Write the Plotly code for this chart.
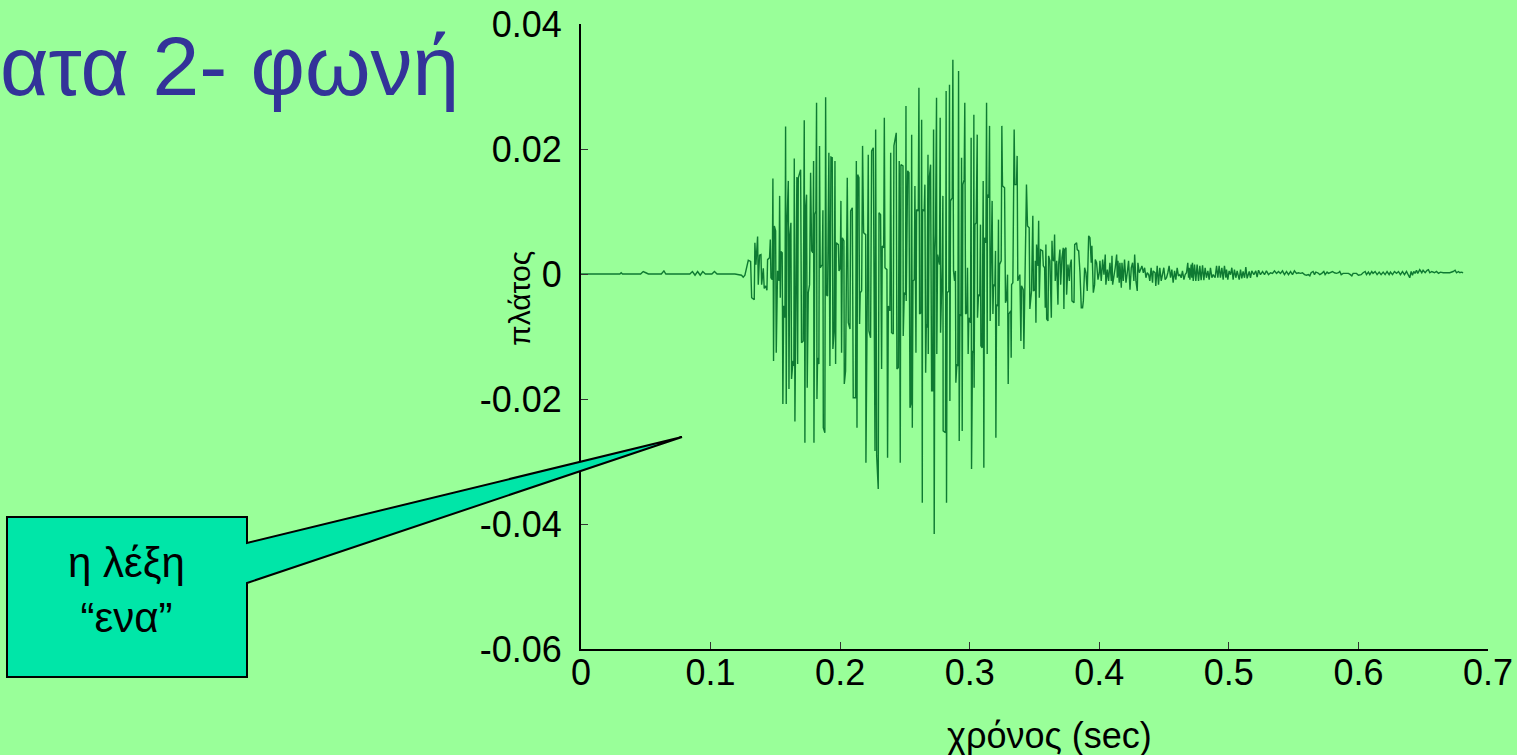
import numpy as np
import plotly.graph_objects as go

# ---------------- data (time in ms, amplitude in units of 1e-3) ----------------
head_t = [0.0, 30.0, 31.0, 32.0, 46.0, 48.0, 50.0, 52.0, 62.0, 64.0, 65.5,
          84.0, 86.0, 88.0, 90.0, 92.0, 94.0, 96.0, 101.0, 103.0, 105.0, 118.8]
head_a = [0.0, 0.0, 0.2, 0.0, 0.0, 0.4, 0.2, 0.0, 0.0, 0.5, 0.0,
          0.0, 0.4, -0.2, 0.4, -0.2, 0.4, 0.0, 0.0, 0.4, 0.0, 0.0]

onset_t = [123.9,125.2,126.5,127.8,129.1,130.9,131.7,133.7,134.2,135.0,
           136.3,136.8,137.8,138.9,139.4,140.7,141.4,142.5,143.5,144.0,
           145.5,146.1,146.6,147.6,148.1,148.6,149.2,150.2,150.7,151.7,
           152.8,153.3,153.8,154.3,155.3,155.8,156.4,157.4,157.9,158.4,
           158.9,160.0,160.5,161.2,162.0,162.5,163.6,164.3,164.6,165.1,
           165.6,166.6,167.2,167.7,169.5,170.2,171.5,172.3,172.8,173.3,
           174.1,174.6,175.4,176.4,177.2,178.0,179.0,179.5,179.8,180.5,
           181.3,181.8,182.1,182.6,183.6,184.1,184.6,186.2,186.7,187.0,
           188.2,188.8,189.3,190.3,191.3,192.1,192.9,193.9,194.4,195.4]
onset_a = [-0.2,-0.5,-0.2,1.0,2.2,2.0,-3.8,-4.1,5.0,1.5,
           6.0,-1.7,3.0,3.1,-1.7,0.9,-2.3,-1.9,-2.6,2.3,
           2.6,5.5,-0.6,-0.9,15.3,-13.9,7.7,6.9,-12.6,0.5,
           -1.1,12.5,-3.8,3.6,3.4,-20.8,-5.1,-7.0,23.6,-20.8,
           7.7,14.9,-18.4,6.3,8.2,-16.8,-13.9,-14.7,18.5,-23.6,
           -3.9,15.5,-14.4,15.4,16.7,-11.0,-10.7,24.6,-27.0,10.3,
           12.7,-18.2,-3.0,-1.7,16.2,3.7,3.4,18.1,-27.0,9.5,
           10.1,27.4,-20.0,-13.4,-14.4,20.5,1.0,1.5,10.2,-24.6,
           -25.4,28.3,-3.3,-3.5,19.4,-14.7,18.7,18.6,-12.0,-9.1]

mid_t = [196.0,196.5,197.0,198.6,199.1,200.1,200.6,201.1,201.7,202.9,
         203.2,204.2,205.5,206.3,207.6,208.1,209.4,210.1,211.9,212.5,
         213.0,213.5,214.5,215.0,215.5,216.6,217.3,218.1,219.7,219.9,
         221.0,221.7,222.2,223.5,224.3,225.6,226.9,227.4,228.2,229.4,
         230.0,231.2,232.0,232.5,233.6,234.1,234.6,236.1,236.6,237.2,
         238.4,239.0,239.7,241.0,241.5,243.3,243.8,244.9,245.6,246.4,
         246.9,248.5,248.7,249.5,250.5,250.8,251.0,252.1,253.1,253.9,
         254.6,255.2,255.7,256.2,257.2,257.7,258.5,259.0,260.3,260.8,
         261.3,262.4,262.9,263.4,263.6,264.9,265.4,266.0,266.5,267.0,
         267.8,268.0,268.8,269.8,270.6,271.4,272.1,272.6,273.2]
mid_a = [18.1,-14.4,5.0,4.7,0.5,1.0,11.7,-12.6,5.8,5.3,
         -17.6,-15.5,15.4,-7.8,-8.8,10.1,10.6,-19.8,-19.8,18.1,
         -24.6,15.9,15.4,-8.0,-3.0,-2.7,20.5,6.6,6.3,-30.2,
         -2.5,19.1,-9.1,-10.2,19.7,20.2,-28.3,23.1,-29.1,-34.4,
         9.8,9.5,-15.2,4.5,4.2,25.0,1.0,0.7,-29.4,-5.1,
         -5.9,19.4,-9.4,-9.6,20.5,22.6,-15.2,-15.0,18.1,-30.2,
         17.5,17.3,-9.9,-3.0,-3.3,26.9,-4.3,16.5,16.2,-21.4,
         -20.8,22.3,-24.6,-1.1,-0.9,14.1,-12.6,10.3,10.1,29.8,
         -6.4,-6.2,24.7,-36.6,10.3,10.1,14.3,-15.8,-8.0,-8.6,
         19.1,-12.8,15.4,17.5,-18.7,-18.7,23.1,-41.6,3.7]

peak_t = [273.6,274.4,274.6,275.2,276.7,277.2,277.5,278.8,279.3,279.5,
          281.3,281.8,282.1,282.6,283.9,284.4,284.7,285.2,286.5,287.0,
          287.5,288.3,289.0,289.3,290.1,290.8,291.4,291.9,292.4,293.2,
          293.7,294.2,294.7,295.7,296.2,296.8,297.8,298.3,298.8,299.3,
          300.6,301.1,301.4,302.2,302.9,303.2,303.4,304.0,305.0,305.8,
          306.0,306.8,307.8,308.3,308.6,309.6,310.4,310.9,311.4,312.5,
          313.0,313.5,313.7,314.8,315.3,315.8,316.6,317.3,317.9,318.4,
          319.4,319.9,320.2,320.7,321.7,322.2,322.5,323.0,324.3,324.8,
          325.3,326.9,327.6,328.4,329.2,329.7,330.2,331.7,332.0,332.3,
          333.3,334.3,334.8,336.1,336.6,337.1,338.7,339.5,340.0,341.3,
          341.8,342.5,343.8,344.6,345.9,346.4,347.7,348.7,349.2,350.3]
peak_a = [6.3,28.2,-12.8,3.1,1.5,25.0,-9.4,1.5,12.5,-25.1,
          -25.4,29.3,-36.6,-3.0,-2.7,30.3,-20.3,11.7,12.2,34.3,
          0.5,-1.1,0.5,-17.4,-14.4,-14.7,32.5,-26.7,-6.4,-6.7,
          18.6,-25.1,14.3,15.1,27.4,-6.4,-6.2,1.0,-12.8,-7.0,
          -7.8,21.8,-31.2,-12.3,-12.6,25.5,-18.2,7.9,8.2,22.3,
          -7.0,-3.3,-3.5,7.9,-11.5,-11.8,14.9,-31.0,5.8,5.0,
          27.4,-12.8,12.7,12.2,23.7,-7.5,3.7,11.7,-6.4,-1.7,
          -1.9,3.7,-26.2,-4.9,-5.1,8.7,-8.3,1.5,2.1,23.7,
          14.1,13.8,-4.6,-4.1,-0.1,-17.6,-6.4,-5.9,-13.4,-1.7,
          -1.4,23.1,14.3,14.3,18.9,-1.1,-0.1,-10.7,-1.9,-2.5,
          -12.0,-4.6,14.3,7.7,7.4,-5.6,-2.7,9.3,-2.7,-2.5]

decay_t = [350.6,351.1,351.6,352.7,353.2,353.7,354.7,356.3,356.8,357.8,
           358.3,358.8,359.4,360.4,360.9,361.9,363.0,363.5,364.0,365.0,
           365.5,366.0,367.1,368.1,368.6,369.6,370.2,371.2,372.2,372.7,
           373.2,374.3,374.8,375.8,376.9,377.4,378.4,378.9,380.5,381.0,
           382.5,383.0,384.1,385.1,386.1,387.1,387.7,388.7,389.7,390.7,
           391.8,392.8,393.8,394.3,395.4,396.4,396.9,397.9,399.0,400.0,
           400.5,401.5,402.6,403.6,404.6,405.1,406.2,407.2,408.2,409.3,
           409.8,410.3,411.3,412.3,413.4,413.9,414.4,415.4,415.9,417.0,
           417.5,418.5,419.5,420.6,421.6,422.6,423.7,424.7,425.7,426.7,
           427.3,428.3,429.3,429.8,430.9,431.9,432.9,434.0,435.0,436.0,
           437.0,438.1]
decay_a = [2.1,-7.8,4.7,1.3,8.5,-3.8,3.9,3.7,1.3,1.0,
           -5.4,4.7,-7.2,-7.5,2.9,2.1,-7.0,5.3,2.3,2.1,
           6.3,-1.1,2.1,-4.9,1.5,3.9,-1.7,2.6,4.2,-5.6,
           3.9,4.2,-3.3,1.5,-1.1,1.3,2.3,-4.3,-4.6,4.7,
           5.0,3.9,3.7,0.2,-5.4,-5.4,-4.3,1.0,0.2,-2.7,
           6.1,5.8,1.8,4.5,-3.0,-1.7,2.3,1.8,-0.9,0.2,
           2.1,-1.1,2.3,-0.1,3.1,-1.7,0.7,-1.1,1.8,-1.1,
           2.9,-1.7,-0.6,1.0,3.1,-0.6,2.1,-1.4,1.8,-2.2,
           1.8,-1.1,2.3,-1.4,0.2,2.1,-2.5,1.0,1.8,-1.1,
           3.1,-1.1,-2.7,1.8,0.2,0.7,1.3,0.2,1.0,-0.6,
           0.2,-0.1]

tail_t = [439.0,440.0,441.1,441.6,443.1,443.6,444.7,445.7,446.7,447.8,
          448.8,449.8,450.8,451.9,452.9,453.9,455.0,456.0,457.0,458.1,
          459.1,460.1,461.1,462.2,463.2,464.2,465.3,466.3,467.3,468.3,
          468.9,469.4,469.9,470.9,471.4,471.9,472.5,473.5,474.5,475.5,
          476.6,477.6,478.6,479.7,480.7,481.7,482.7,483.8,484.8,485.8,
          486.9,487.9,489.4,490.5,491.5,492.5,493.5,494.6,495.6,496.6,
          497.7,498.2,499.2,500.2,501.3,502.3,503.3,504.3,505.4,506.4,
          508.0,509.0,510.0,511.0,512.1,513.1,514.1,515.7,516.7,517.7,
          519.3,520.8,521.8,522.9,524.4,526.0,527.5,529.0,530.6,532.1,
          533.7,535.2,536.8,538.3,539.8,541.4,542.9,544.5,546.0,547.6,
          549.1,550.6,552.2,553.7,555.3,556.8,558.4,559.9,561.4,562.5,
          563.5,565.0,566.1,567.1,568.6,570.2,571.7,573.3,574.3,575.8,
          576.9,578.4,580.0,581.5,583.0,584.6,585.6,586.7,588.2,590.2,
          592.3,593.8,594.9,595.9,598.5,600.0,602.1,603.6,605.2,606.2,
          607.7,608.8,610.3,611.3,612.9,614.4,616.0,617.5,619.1,620.6,
          622.1,623.7,624.7,626.3,627.8,629.4,630.9,632.4,634.0,635.5,
          637.1,638.6,639.6,640.7,641.7,642.7,643.7,644.8,645.8,647.3,
          648.9,649.9,651.5,653.0,654.0,655.1,656.6,658.7,660.2,661.8,
          663.3,665.4,668.0,670.5,673.1,674.6,675.7,677.2,678.3,679.3,
          680.8]
tail_a = [-1.1,1.0,-1.4,0.5,0.2,-1.9,1.3,-1.7,1.0,-1.1,
          0.2,1.0,-0.9,-0.6,0.2,1.3,-0.6,0.7,-1.4,0.5,
          -0.9,1.0,-0.3,-0.1,-0.6,0.5,-0.9,-0.1,0.2,1.8,
          -0.6,1.0,-0.9,1.5,-0.6,1.8,-1.1,1.5,-1.1,1.5,
          -1.1,1.3,-1.0,1.4,-1.0,1.0,-0.6,0.5,-0.9,1.0,
          -0.6,-0.1,-0.6,1.3,-0.6,1.3,-0.6,1.0,-0.9,1.3,
          -0.6,0.7,-0.9,0.5,-0.1,1.0,-0.9,0.7,-0.6,0.5,
          -0.9,0.7,-0.7,0.4,-0.6,1.1,-0.7,0.4,-0.6,0.5,
          -0.1,0.5,-0.5,0.6,-0.1,0.4,-0.1,0.5,-0.1,0.2,
          0.1,0.5,0.1,0.4,0.1,0.5,-0.1,0.4,-0.1,0.4,
          -0.1,0.5,0.1,0.2,0.1,0.2,-0.1,-0.2,-0.1,-0.3,
          0.2,0.4,-0.1,0.3,0.2,-0.1,0.1,0.4,-0.1,0.3,
          0.1,0.2,0.4,0.2,0.1,0.2,0.4,-0.1,0.1,0.1,
          0.1,-0.1,-0.3,0.1,0.1,-0.2,-0.1,0.2,0.4,-0.1,
          0.3,-0.1,0.4,0.1,0.4,-0.1,0.3,-0.1,0.3,-0.1,
          0.4,-0.1,0.3,-0.1,0.4,0.1,0.4,-0.1,0.4,-0.1,
          0.4,-0.2,-0.6,0.4,-0.2,0.4,0.1,0.6,0.1,0.7,
          0.2,0.6,0.2,0.6,0.7,0.2,0.4,0.2,0.4,0.1,
          0.3,0.2,0.2,0.2,0.4,0.6,0.2,0.4,0.2,0.3,
          0.2]

x_ticks = [0, 0.1, 0.2, 0.3, 0.4, 0.5, 0.6, 0.7]
x_tick_text = ["0", "0.1", "0.2", "0.3", "0.4", "0.5", "0.6", "0.7"]
y_ticks = [0.04, 0.02, 0, -0.02, -0.04, -0.06]
y_tick_text = ["0.04", "0.02", "0", "-0.02", "-0.04", "-0.06"]

title_text = "ατα 2- φωνή"
callout_lines = ["η λέξη", "“ενα”"]
x_title = "χρόνος (sec)"
y_title = "πλάτος"

# ---------------- figure ----------------
t_ms = head_t + onset_t + mid_t + peak_t + decay_t + tail_t
amp = head_a + onset_a + mid_a + peak_a + decay_a + tail_a
t = np.array(t_ms) / 1000.0
y = np.array(amp) / 1000.0

W, H = 1517, 755
L, R, T, B = 581, 1488, 24, 649
BG = "#99FF99"
FONT = "Liberation Sans, Arial, sans-serif"


def px(xp):
    return (xp - L) / (R - L)


def py(yp):
    return (B - yp) / (B - T)


fig = go.Figure()
fig.add_trace(go.Scatter(x=t, y=y, mode="lines",
                         line=dict(color="#0e7a32", width=1.4),
                         hoverinfo="skip", showlegend=False))

callout_pts = [(7, 517), (247, 517), (247, 543), (682, 437),
               (247, 583), (247, 677), (7, 677)]
path = "M " + " L ".join(f"{px(a):.5f},{py(b):.5f}" for a, b in callout_pts) + " Z"

annotations = [
    dict(text=title_text, xref="paper", yref="paper", x=px(-2), y=py(66),
         xanchor="left", yanchor="middle", showarrow=False,
         font=dict(size=84, color="#333399", family=FONT)),
    dict(text=x_title, xref="paper", yref="paper", x=px(1049), y=py(735),
         xanchor="center", yanchor="middle", showarrow=False,
         font=dict(size=36, color="black", family=FONT)),
    dict(text=y_title, xref="paper", yref="paper", x=px(520), y=py(299),
         xanchor="center", yanchor="middle", showarrow=False, textangle=-90,
         font=dict(size=30, color="black", family=FONT)),
    dict(text="<br>".join(callout_lines), xref="paper", yref="paper",
         x=px(126), y=py(590), xanchor="center", yanchor="middle",
         showarrow=False, align="center",
         font=dict(size=42, color="black", family=FONT)),
]

fig.update_layout(
    width=W, height=H,
    margin=dict(l=L, r=W - R, t=T, b=H - B, pad=0),
    paper_bgcolor=BG, plot_bgcolor=BG,
    font=dict(family=FONT, color="black", size=36),
    showlegend=False,
    xaxis=dict(range=[0, 0.7], tickvals=x_ticks, ticktext=x_tick_text,
               ticks="inside", ticklen=7, tickwidth=1, tickcolor="#333",
               showline=True, linecolor="black", linewidth=2,
               showgrid=False, zeroline=False, automargin=False,
               ticklabelstandoff=-9,
               tickfont=dict(size=36, family=FONT, color="black")),
    yaxis=dict(range=[-0.06, 0.04], tickvals=y_ticks, ticktext=y_tick_text,
               ticks="inside", ticklen=7, tickwidth=1, tickcolor="#333",
               showline=True, linecolor="black", linewidth=2,
               showgrid=False, zeroline=False, automargin=False,
               ticklabelstandoff=10,
               tickfont=dict(size=36, family=FONT, color="black")),
    shapes=[dict(type="path", xref="paper", yref="paper", path=path,
                 fillcolor="#00E6A8", line=dict(color="black", width=2),
                 layer="above")],
    annotations=annotations,
)

fig.write_html("out.html")
